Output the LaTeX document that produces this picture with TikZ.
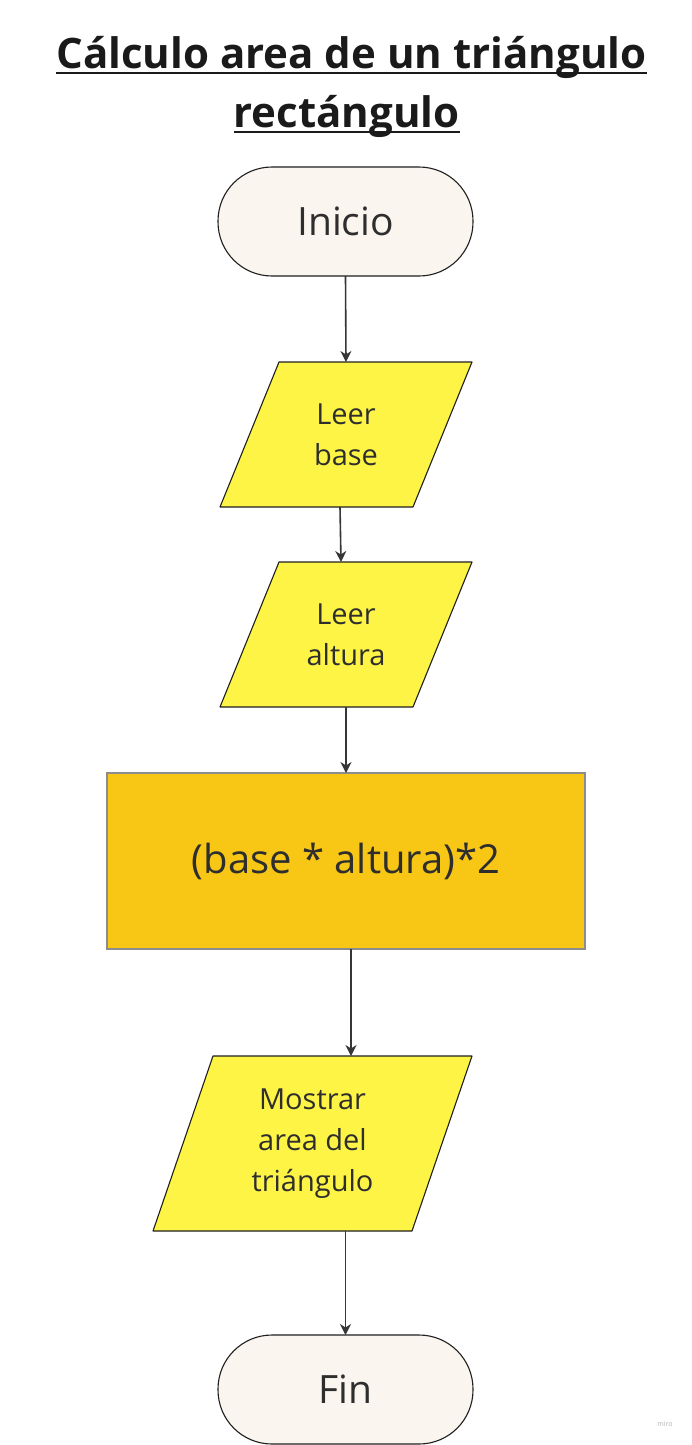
\documentclass[tikz,border=0pt]{standalone}
\usepackage{fontspec}
\setmainfont{Open Sans}
\usetikzlibrary{calc,arrows.meta}
\pgfdeclarelayer{background}
\pgfdeclarelayer{canvas}
\pgfsetlayers{canvas,background,main}
\definecolor{termfill}{HTML}{FAF6EF}
\definecolor{iofill}{HTML}{FEF445}
\definecolor{procfill}{HTML}{F8C614}
\definecolor{edgecol}{HTML}{1F1F1F}
\definecolor{txtcol}{HTML}{2E2E2E}
\definecolor{procedge}{HTML}{8C8C8C}
\definecolor{linecol}{HTML}{363636}
\definecolor{titlecol}{HTML}{1A1A1A}
\newcommand\ioshape[2]{%
  \filldraw[fill=iofill, draw=edgecol, line width=1.1pt, line join=round]
    ($(#1.north west)+(#2,0)$) -- ($(#1.north east)+(#2,0)$) --
    ($(#1.south east)-(#2,0)$) -- ($(#1.south west)-(#2,0)$) -- cycle;}
\begin{document}
\begin{tikzpicture}[x=1pt,y=-1pt,
  terminal/.style={draw=edgecol, fill=termfill, line width=1.1pt, rounded corners=54pt,
    minimum width=255pt, minimum height=109pt, inner sep=0pt, outer sep=0pt,
    text=txtcol, font=\fontsize{39}{46}\selectfont},
  iobox/.style={inner sep=0pt, outer sep=0pt, align=center, text=txtcol,
    font=\fontsize{29}{41}\selectfont},
  procbox/.style={draw=procedge, fill=procfill, line width=1.1pt,
    minimum width=478pt, minimum height=176pt, inner sep=0pt, outer sep=0pt,
    text=txtcol, font=\fontsize{40}{46}\selectfont},
  titletext/.style={inner sep=0pt, outer sep=0pt, anchor=base, text=titlecol,
    font=\fontsize{42}{50}\selectfont\bfseries},
  underl/.style={draw=titlecol, line width=2.8pt},
  flow/.style={draw=linecol, line width=1.6pt, -{Stealth[length=11pt,width=11pt,inset=3.5pt]}}
]
\begin{pgfonlayer}{canvas}
\fill[white] (0,0) rectangle (692,1445);
\end{pgfonlayer}
\useasboundingbox (0,0) rectangle (692,1445);

% title
\node[titletext] (t1) at (351.5,68) {Cálculo area de un triángulo\ };
\node[titletext] (t2) at (346.5,127) {rectángulo};
\draw[underl] ($(t1.base west)+(0,5)$) -- ($(t1.base east)+(0,5)$);
\draw[underl] ($(t2.base west)+(0,5)$) -- ($(t2.base east)+(0,5)$);

% nodes
\node[terminal] (i) at (345.5,221.5) {Inicio};
\node[iobox, minimum width=193pt, minimum height=145pt] (b) at (346,434.5) {Leer\\base};
\node[iobox, minimum width=193pt, minimum height=145pt] (a) at (346,634.5) {Leer\\altura};
\node[procbox] (p) at (346,861) {(base * altura)*2};
\node[iobox, minimum width=259pt, minimum height=175pt] (m) at (312.5,1143.5) {Mostrar\\area del\\triángulo};
\node[terminal] (f) at (345.5,1389.5) {Fin};

\begin{pgfonlayer}{background}
  \ioshape{b}{29.5}
  \ioshape{a}{29.5}
  \ioshape{m}{30}
\end{pgfonlayer}

% connectors
\draw[flow] (i.south) -- (b.north);
\draw[flow] ($(b.south)+(-6,0)$) -- ($(a.north)+(-5,0)$);
\draw[flow] (a.south) -- (p.north);
\coordinate (pm) at ($(p.south)+(5,0)$);
\draw[flow] (pm) -- (pm |- m.north);
\draw[flow] (m.south -| f.north) -- (f.north);

% watermark
\node[inner sep=0pt, text=black!30, font=\fontsize{7}{8}\selectfont] (w) at (665,1424) {miro};
\end{tikzpicture}
\end{document}
